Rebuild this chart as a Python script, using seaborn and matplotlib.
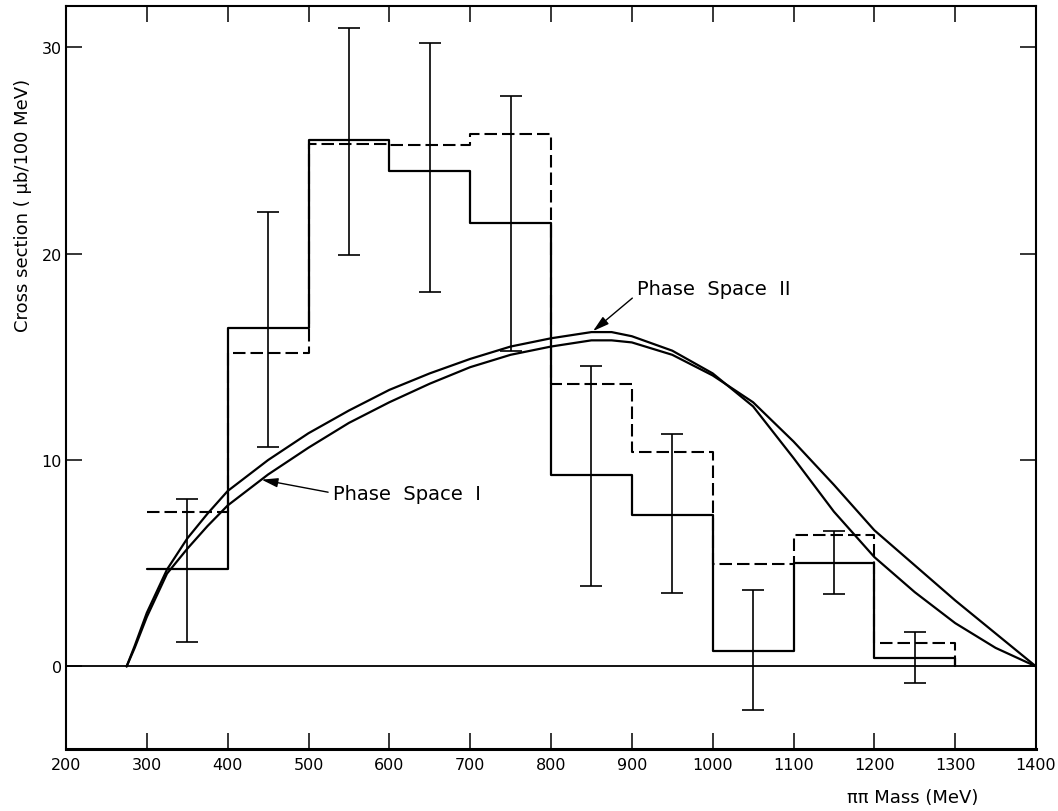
import numpy as np
import pandas as pd
import matplotlib
matplotlib.use("Agg")
import matplotlib.pyplot as plt
import seaborn as sns

# Histogram bins (MeV) and cross sections (µb / 100 MeV)
bin_edges = [300, 400, 500, 600, 700, 800, 900, 1000, 1100, 1200, 1300]
bin_centers = [350, 450, 550, 650, 750, 850, 950, 1050, 1150, 1250]
solid_counts = [4.7, 16.4, 25.5, 24.0, 21.5, 9.3, 7.35, 0.75, 5.0, 0.4]
dashed_counts = [7.5, 15.2, 25.3, 25.25, 25.8, 13.7, 10.4, 4.95, 6.35, 1.15]
err_low = [3.5, 5.75, 5.55, 5.85, 6.2, 5.4, 3.8, 2.85, 1.5, 1.2]
err_high = [3.4, 5.6, 5.45, 6.2, 6.15, 5.25, 3.9, 2.95, 1.55, 1.25]

# Phase-space curves
ps_mass = [275, 285, 300, 325, 350, 375, 400, 450, 500, 550, 600, 650, 700,
           750, 800, 850, 875, 900, 950, 1000, 1050, 1100, 1150, 1200, 1250,
           1300, 1350, 1400]
ps1 = [0.0, 0.9, 2.4, 4.5, 5.7, 6.8, 7.8, 9.3, 10.6, 11.8, 12.8, 13.7, 14.5,
       15.1, 15.5, 15.8, 15.8, 15.7, 15.1, 14.1, 12.8, 10.9, 8.8, 6.6, 4.9,
       3.2, 1.6, 0.0]
ps2 = [0.0, 1.0, 2.6, 4.7, 6.2, 7.4, 8.5, 10.0, 11.3, 12.4, 13.4, 14.2, 14.9,
       15.5, 15.9, 16.2, 16.2, 16.0, 15.3, 14.2, 12.6, 10.1, 7.5, 5.3, 3.6,
       2.1, 0.9, 0.0]

x_ticks = [200, 300, 400, 500, 600, 700, 800, 900, 1000, 1100, 1200, 1300, 1400]
y_ticks = [0, 10, 20, 30]

sns.set_style("ticks")
plt.rcParams["font.family"] = ["DejaVu Sans"]
plt.rcParams["text.color"] = "black"
plt.rcParams["axes.labelcolor"] = "black"

fig = plt.figure(figsize=(10.58, 8.12), dpi=100)
ax = fig.add_axes([66 / 1058, 1 - 750 / 812, (1036 - 66) / 1058, (750 - 7) / 812])


def step_frame(counts):
    xs = list(bin_edges) + [bin_edges[-1]]
    ys = list(counts) + [counts[-1], 0.0]
    return pd.DataFrame({"mass": xs, "xsec": ys})


sns.lineplot(data=step_frame(solid_counts), x="mass", y="xsec", ax=ax,
             estimator=None, sort=False, drawstyle="steps-post",
             color="black", linewidth=1.6)
sns.lineplot(data=step_frame(dashed_counts), x="mass", y="xsec", ax=ax,
             estimator=None, sort=False, drawstyle="steps-post",
             color="black", linewidth=1.5, linestyle=(0, (6, 2.4)))

ax.errorbar(bin_centers, solid_counts, yerr=[err_low, err_high], fmt="none",
            ecolor="black", elinewidth=1.2, capsize=8, capthick=1.2)

curves = pd.DataFrame({"mass": ps_mass, "ps1": ps1, "ps2": ps2})
sns.lineplot(data=curves, x="mass", y="ps1", ax=ax, estimator=None,
             color="black", linewidth=1.6)
sns.lineplot(data=curves, x="mass", y="ps2", ax=ax, estimator=None,
             color="black", linewidth=1.6)

ax.axhline(0, color="black", linewidth=1.3)

ax.annotate("Phase  Space  I", xy=(442, 9.05), xytext=(530, 8.4),
            ha="left", va="center", fontsize=14, color="black",
            arrowprops=dict(arrowstyle="-|>,head_length=0.7,head_width=0.2",
                            color="black", lw=1.0, relpos=(0, 0.5),
                            shrinkA=1, shrinkB=0))
ax.annotate("Phase  Space  II", xy=(852, 16.25), xytext=(906, 18.3),
            ha="left", va="center", fontsize=14, color="black",
            arrowprops=dict(arrowstyle="-|>,head_length=0.7,head_width=0.2",
                            color="black", lw=1.0, relpos=(0, 0.2),
                            shrinkA=1, shrinkB=0))

ax.set_xlim(200, 1400)
ax.set_ylim(-4, 32)
ax.set_xticks(x_ticks)
ax.set_yticks(y_ticks)
ax.tick_params(direction="in", length=11.5, width=1.1, top=True, right=True,
               labeltop=False, labelright=False, labelsize=11.5, colors="black")
ax.tick_params(axis="x", pad=6)
ax.tick_params(axis="y", pad=3)
for side in ["left", "right", "top"]:
    ax.spines[side].set_linewidth(1.5)
    ax.spines[side].set_color("black")
ax.spines["bottom"].set_linewidth(2.2)
ax.spines["bottom"].set_color("black")

ax.set_xlabel("ππ Mass (MeV)", fontsize=13, color="black")
ax.set_ylabel("Cross section ( μb/100 MeV)", fontsize=13, color="black")
ax.xaxis.set_label_coords(0.873, -0.052)
ax.yaxis.set_label_coords(-0.035, 0.733)

fig.savefig("out.png", dpi=100)
